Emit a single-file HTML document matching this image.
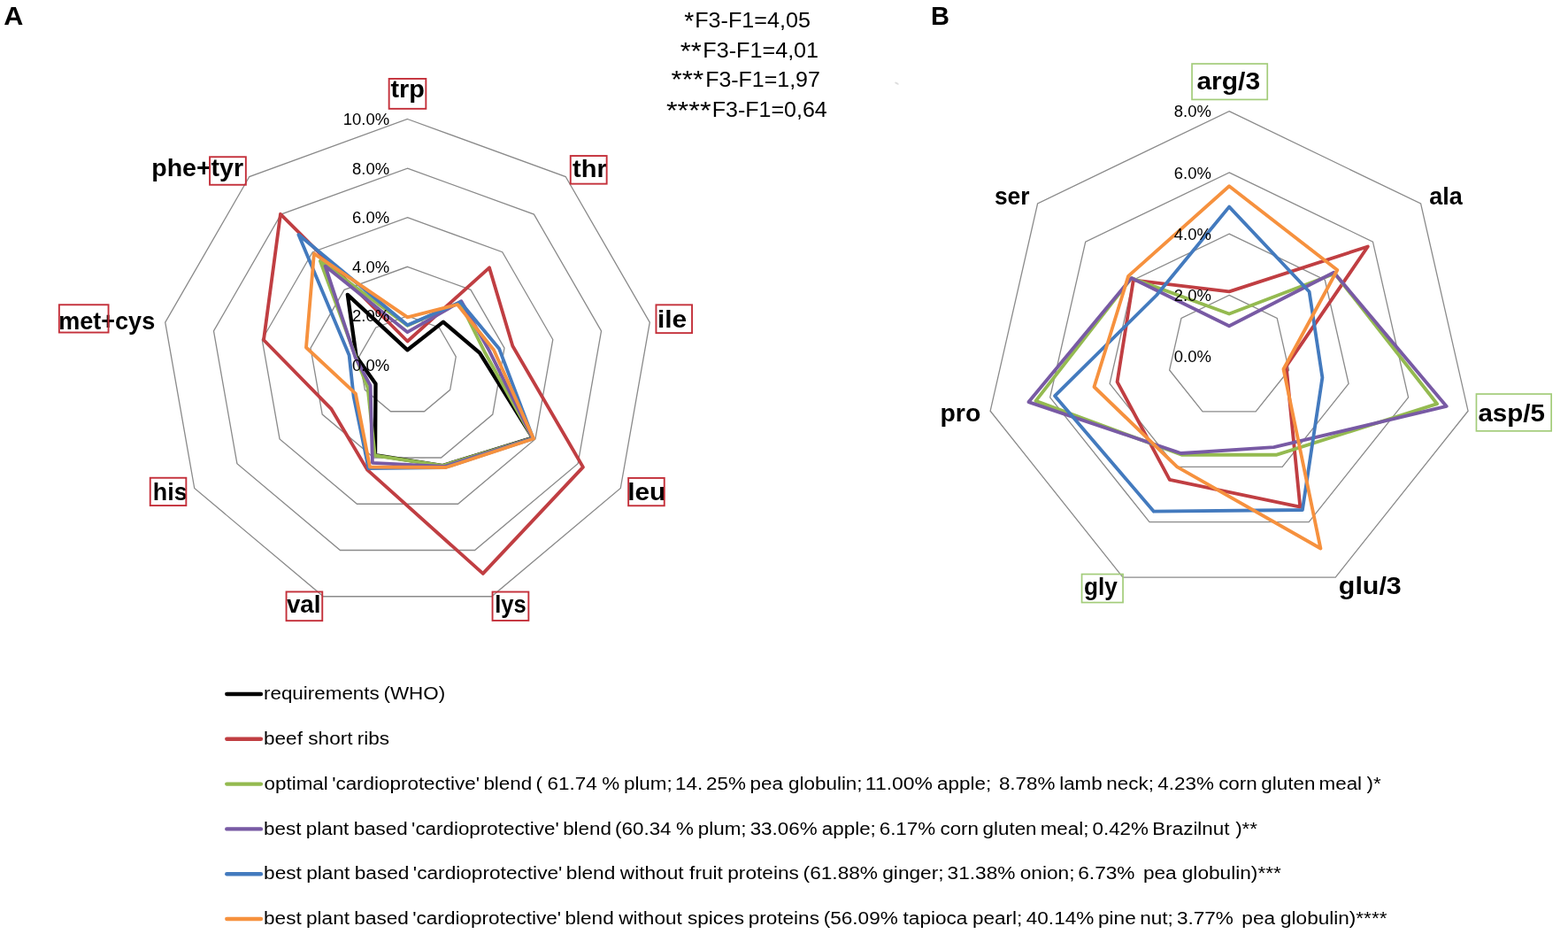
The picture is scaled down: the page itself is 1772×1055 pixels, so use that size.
<!DOCTYPE html>
<html><head><meta charset="utf-8"><title>Radar charts</title>
<style>
html,body{margin:0;padding:0;background:#fff;}
svg{display:block;}
text{font-family:'Liberation Sans', Arial, sans-serif;}
</style></head>
<body>
<svg width="1772" height="1055" viewBox="0 0 1772 1055">
<rect width="1772" height="1055" fill="#fff"/>
<polygon points="460.50,356.90 496.24,369.91 515.26,402.85 508.65,440.30 479.52,464.75 441.48,464.75 412.35,440.30 405.74,402.85 424.76,369.91" fill="none" stroke="#8a8a8a" stroke-width="1.3" stroke-linejoin="miter" stroke-miterlimit="10"/>
<polygon points="460.50,301.30 531.98,327.32 570.01,393.19 556.80,468.10 498.53,516.99 422.47,516.99 364.20,468.10 350.99,393.19 389.02,327.32" fill="none" stroke="#8a8a8a" stroke-width="1.3" stroke-linejoin="miter" stroke-miterlimit="10"/>
<polygon points="460.50,245.70 567.72,284.72 624.77,383.54 604.95,495.90 517.55,569.24 403.45,569.24 316.05,495.90 296.23,383.54 353.28,284.72" fill="none" stroke="#8a8a8a" stroke-width="1.3" stroke-linejoin="miter" stroke-miterlimit="10"/>
<polygon points="460.50,190.10 603.46,242.13 679.52,373.88 653.10,523.70 536.57,621.49 384.43,621.49 267.90,523.70 241.48,373.88 317.54,242.13" fill="none" stroke="#8a8a8a" stroke-width="1.3" stroke-linejoin="miter" stroke-miterlimit="10"/>
<polygon points="460.50,134.50 639.19,199.54 734.28,364.23 701.26,551.50 555.58,673.73 365.42,673.73 219.74,551.50 186.72,364.23 281.81,199.54" fill="none" stroke="#8a8a8a" stroke-width="1.3" stroke-linejoin="miter" stroke-miterlimit="10"/>
<polygon points="1389.10,333.38 1443.22,359.44 1456.59,418.00 1419.14,464.97 1359.06,464.97 1321.61,418.00 1334.98,359.44" fill="none" stroke="#8a8a8a" stroke-width="1.3" stroke-linejoin="miter" stroke-miterlimit="10"/>
<polygon points="1389.10,264.15 1497.34,316.28 1524.08,433.41 1449.17,527.34 1329.03,527.34 1254.12,433.41 1280.86,316.28" fill="none" stroke="#8a8a8a" stroke-width="1.3" stroke-linejoin="miter" stroke-miterlimit="10"/>
<polygon points="1389.10,194.93 1551.47,273.12 1591.57,448.81 1479.21,589.71 1298.99,589.71 1186.63,448.81 1226.73,273.12" fill="none" stroke="#8a8a8a" stroke-width="1.3" stroke-linejoin="miter" stroke-miterlimit="10"/>
<polygon points="1389.10,125.70 1605.59,229.96 1659.06,464.22 1509.24,652.08 1268.96,652.08 1119.14,464.22 1172.61,229.96" fill="none" stroke="#8a8a8a" stroke-width="1.3" stroke-linejoin="miter" stroke-miterlimit="10"/>
<polygon points="460.50,395.30 500.90,363.60 542.10,398.70 602.00,494.60 500.30,526.00 424.00,514.00 424.50,433.50 402.60,402.60 392.80,332.80" fill="none" stroke="#000000" stroke-width="4.3" stroke-linejoin="round" stroke-miterlimit="10"/>
<polygon points="460.50,385.50 553.00,302.40 579.30,390.70 658.90,527.60 545.80,647.90 415.30,530.90 374.60,462.20 298.00,384.00 317.00,241.80" fill="none" stroke="#c03e42" stroke-width="3.85" stroke-linejoin="round" stroke-miterlimit="10"/>
<polygon points="460.50,367.80 520.00,341.60 547.50,397.20 601.80,494.90 500.00,526.00 423.70,514.50 415.60,438.00 402.50,404.20 361.90,294.90" fill="none" stroke="#94ba50" stroke-width="3.85" stroke-linejoin="round" stroke-miterlimit="10"/>
<polygon points="460.50,375.20 521.30,340.20 553.00,396.30 602.00,495.00 502.00,527.00 420.90,522.80 418.60,435.60 401.50,403.50 367.60,300.60" fill="none" stroke="#785aa4" stroke-width="3.85" stroke-linejoin="round" stroke-miterlimit="10"/>
<polygon points="460.50,367.30 520.30,341.30 564.20,394.10 602.50,495.30 503.00,528.00 416.50,529.00 399.60,447.60 394.60,401.20 337.40,265.10" fill="none" stroke="#437abe" stroke-width="3.85" stroke-linejoin="round" stroke-miterlimit="10"/>
<polygon points="460.50,358.40 517.00,344.00 558.00,395.30 603.00,495.50 504.00,528.00 418.00,527.50 401.90,444.70 346.00,392.50 354.90,286.40" fill="none" stroke="#f6913e" stroke-width="3.85" stroke-linejoin="round" stroke-miterlimit="10"/>
<polygon points="1389.10,329.30 1545.80,278.50 1453.60,413.70 1469.30,572.60 1321.80,541.90 1262.60,431.30 1280.80,316.40" fill="none" stroke="#c03e42" stroke-width="3.85" stroke-linejoin="round" stroke-miterlimit="10"/>
<polygon points="1389.10,354.50 1508.50,309.00 1624.10,456.20 1442.90,513.70 1335.40,513.70 1170.50,452.90 1278.60,314.10" fill="none" stroke="#94ba50" stroke-width="3.85" stroke-linejoin="round" stroke-miterlimit="10"/>
<polygon points="1389.10,368.30 1507.40,307.70 1634.70,458.90 1439.50,505.20 1334.60,512.00 1162.50,454.10 1278.60,314.10" fill="none" stroke="#785aa4" stroke-width="3.85" stroke-linejoin="round" stroke-miterlimit="10"/>
<polygon points="1389.10,233.60 1479.60,329.50 1494.40,426.50 1471.90,576.00 1303.90,577.70 1192.10,447.20 1307.00,333.50" fill="none" stroke="#437abe" stroke-width="3.85" stroke-linejoin="round" stroke-miterlimit="10"/>
<polygon points="1389.10,210.30 1511.30,305.00 1450.50,417.00 1492.40,619.50 1330.30,527.40 1236.50,437.00 1275.10,311.90" fill="none" stroke="#f6913e" stroke-width="3.85" stroke-linejoin="round" stroke-miterlimit="10"/>
<text x="398.04" y="418.90" font-size="18.8" textLength="42.12" lengthAdjust="spacingAndGlyphs" fill="#000">0.0%</text>
<text x="398.04" y="363.30" font-size="18.8" textLength="42.12" lengthAdjust="spacingAndGlyphs" fill="#000">2.0%</text>
<text x="398.04" y="307.70" font-size="18.8" textLength="42.12" lengthAdjust="spacingAndGlyphs" fill="#000">4.0%</text>
<text x="398.04" y="252.10" font-size="18.8" textLength="42.12" lengthAdjust="spacingAndGlyphs" fill="#000">6.0%</text>
<text x="398.04" y="196.50" font-size="18.8" textLength="42.12" lengthAdjust="spacingAndGlyphs" fill="#000">8.0%</text>
<text x="387.76" y="140.90" font-size="18.8" textLength="52.40" lengthAdjust="spacingAndGlyphs" fill="#000">10.0%</text>
<text x="1326.74" y="409.25" font-size="18.8" textLength="42.12" lengthAdjust="spacingAndGlyphs" fill="#000">0.0%</text>
<text x="1326.74" y="340.02" font-size="18.8" textLength="42.12" lengthAdjust="spacingAndGlyphs" fill="#000">2.0%</text>
<text x="1326.74" y="270.80" font-size="18.8" textLength="42.12" lengthAdjust="spacingAndGlyphs" fill="#000">4.0%</text>
<text x="1326.74" y="201.58" font-size="18.8" textLength="42.12" lengthAdjust="spacingAndGlyphs" fill="#000">6.0%</text>
<text x="1326.74" y="132.35" font-size="18.8" textLength="42.12" lengthAdjust="spacingAndGlyphs" fill="#000">8.0%</text>
<text x="441.45" y="110.30" font-size="28.5" font-weight="bold" textLength="38.43" lengthAdjust="spacingAndGlyphs" fill="#000">trp</text>
<rect x="439.65" y="88.95" width="41.70" height="33.90" fill="none" stroke="#c4303a" stroke-width="1.9"/>
<text x="647.05" y="199.70" font-size="28.5" font-weight="bold" textLength="38.69" lengthAdjust="spacingAndGlyphs" fill="#000">thr</text>
<rect x="644.75" y="176.05" width="40.90" height="31.60" fill="none" stroke="#c4303a" stroke-width="1.9"/>
<text x="742.92" y="370.40" font-size="28.5" font-weight="bold" textLength="33.10" lengthAdjust="spacingAndGlyphs" fill="#000">ile</text>
<rect x="741.45" y="344.35" width="40.60" height="31.80" fill="none" stroke="#c4303a" stroke-width="1.9"/>
<text x="709.22" y="564.80" font-size="28.5" font-weight="bold" textLength="43.04" lengthAdjust="spacingAndGlyphs" fill="#000">leu</text>
<rect x="710.15" y="539.95" width="40.60" height="31.30" fill="none" stroke="#c4303a" stroke-width="1.9"/>
<text x="559.22" y="692.10" font-size="28.5" font-weight="bold" textLength="35.53" lengthAdjust="spacingAndGlyphs" fill="#000">lys</text>
<rect x="556.55" y="668.55" width="40.80" height="32.40" fill="none" stroke="#c4303a" stroke-width="1.9"/>
<text x="323.89" y="692.10" font-size="28.5" font-weight="bold" textLength="38.47" lengthAdjust="spacingAndGlyphs" fill="#000">val</text>
<rect x="323.55" y="668.45" width="40.70" height="32.70" fill="none" stroke="#c4303a" stroke-width="1.9"/>
<text x="172.83" y="564.60" font-size="28.5" font-weight="bold" textLength="38.77" lengthAdjust="spacingAndGlyphs" fill="#000">his</text>
<rect x="169.75" y="539.75" width="40.60" height="31.30" fill="none" stroke="#c4303a" stroke-width="1.9"/>
<text x="66.22" y="371.70" font-size="28.5" font-weight="bold" textLength="108.99" lengthAdjust="spacingAndGlyphs" fill="#000">met+cys</text>
<rect x="66.85" y="344.25" width="55.70" height="31.30" fill="none" stroke="#c4303a" stroke-width="1.9"/>
<text x="171.22" y="198.80" font-size="28.5" font-weight="bold" textLength="103.81" lengthAdjust="spacingAndGlyphs" fill="#000">phe+tyr</text>
<rect x="237.05" y="177.25" width="40.80" height="31.50" fill="none" stroke="#c4303a" stroke-width="1.9"/>
<text x="1352.42" y="100.60" font-size="28.5" font-weight="bold" textLength="71.66" lengthAdjust="spacingAndGlyphs" fill="#000">arg/3</text>
<rect x="1347.05" y="72.05" width="85.20" height="40.40" fill="none" stroke="#a3cc7a" stroke-width="1.7"/>
<text x="1615.21" y="231.40" font-size="28.5" font-weight="bold" textLength="37.52" lengthAdjust="spacingAndGlyphs" fill="#000">ala</text>
<text x="1670.43" y="475.50" font-size="28.5" font-weight="bold" textLength="75.59" lengthAdjust="spacingAndGlyphs" fill="#000">asp/5</text>
<rect x="1668.45" y="445.05" width="84.70" height="41.80" fill="none" stroke="#a3cc7a" stroke-width="1.7"/>
<text x="1512.85" y="670.80" font-size="28.5" font-weight="bold" textLength="70.95" lengthAdjust="spacingAndGlyphs" fill="#000">glu/3</text>
<text x="1224.93" y="672.20" font-size="28.5" font-weight="bold" textLength="37.81" lengthAdjust="spacingAndGlyphs" fill="#000">gly</text>
<rect x="1222.55" y="648.55" width="46.50" height="32.00" fill="none" stroke="#a3cc7a" stroke-width="1.7"/>
<text x="1062.42" y="475.50" font-size="28.5" font-weight="bold" textLength="45.89" lengthAdjust="spacingAndGlyphs" fill="#000">pro</text>
<text x="1123.97" y="231.40" font-size="28.5" font-weight="bold" textLength="39.52" lengthAdjust="spacingAndGlyphs" fill="#000">ser</text>
<ellipse cx="1013.5" cy="94.1" rx="2.6" ry="1.1" transform="rotate(28 1013.5 94.1)" fill="#dddddd"/>
<text x="4.34" y="27.90" font-size="30" font-weight="bold" textLength="22.07" lengthAdjust="spacingAndGlyphs" fill="#000">A</text>
<text x="1051.96" y="27.90" font-size="30" font-weight="bold" textLength="20.96" lengthAdjust="spacingAndGlyphs" fill="#000">B</text>
<text x="773.34" y="32.50" font-size="28.404999999999998" textLength="11.00" lengthAdjust="spacingAndGlyphs" fill="#000">*</text>
<text x="785.24" y="31.00" font-size="24.7" textLength="130.72" lengthAdjust="spacingAndGlyphs" fill="#000">F3-F1=4,05</text>
<text x="768.80" y="66.90" font-size="28.404999999999998" textLength="24.08" lengthAdjust="spacingAndGlyphs" fill="#000">**</text>
<text x="794.34" y="65.40" font-size="24.7" textLength="130.79" lengthAdjust="spacingAndGlyphs" fill="#000">F3-F1=4,01</text>
<text x="758.59" y="99.20" font-size="28.404999999999998" textLength="36.59" lengthAdjust="spacingAndGlyphs" fill="#000">***</text>
<text x="797.15" y="97.70" font-size="24.7" textLength="129.70" lengthAdjust="spacingAndGlyphs" fill="#000">F3-F1=1,97</text>
<text x="752.98" y="133.60" font-size="28.404999999999998" textLength="50.63" lengthAdjust="spacingAndGlyphs" fill="#000">****</text>
<text x="804.85" y="132.10" font-size="24.7" textLength="129.88" lengthAdjust="spacingAndGlyphs" fill="#000">F3-F1=0,64</text>
<line x1="256.3" y1="784.0" x2="294.9" y2="784.0" stroke="#000000" stroke-width="4.4" stroke-linecap="round"/>
<text x="298.01" y="790.10" font-size="20" textLength="130.72" lengthAdjust="spacingAndGlyphs" fill="#000">requirements</text>
<text x="433.53" y="790.10" font-size="20" textLength="69.66" lengthAdjust="spacingAndGlyphs" fill="#000">(WHO)</text>
<line x1="256.3" y1="834.8" x2="294.9" y2="834.8" stroke="#c03e42" stroke-width="4.4" stroke-linecap="round"/>
<text x="298.05" y="840.90" font-size="20" textLength="43.88" lengthAdjust="spacingAndGlyphs" fill="#000">beef</text>
<text x="348.33" y="840.90" font-size="20" textLength="50.12" lengthAdjust="spacingAndGlyphs" fill="#000">short</text>
<text x="403.79" y="840.90" font-size="20" textLength="36.33" lengthAdjust="spacingAndGlyphs" fill="#000">ribs</text>
<line x1="256.3" y1="885.6" x2="294.9" y2="885.6" stroke="#94ba50" stroke-width="4.4" stroke-linecap="round"/>
<text x="298.56" y="891.70" font-size="20" textLength="72.26" lengthAdjust="spacingAndGlyphs" fill="#000">optimal</text>
<text x="375.18" y="891.70" font-size="20" textLength="166.79" lengthAdjust="spacingAndGlyphs" fill="#000">&#39;cardioprotective&#39;</text>
<text x="546.40" y="891.70" font-size="20" textLength="54.85" lengthAdjust="spacingAndGlyphs" fill="#000">blend</text>
<text x="605.41" y="891.70" font-size="20" textLength="7.46" lengthAdjust="spacingAndGlyphs" fill="#000">(</text>
<text x="618.60" y="891.70" font-size="20" textLength="56.09" lengthAdjust="spacingAndGlyphs" fill="#000">61.74</text>
<text x="680.24" y="891.70" font-size="20" textLength="19.93" lengthAdjust="spacingAndGlyphs" fill="#000">%</text>
<text x="704.93" y="891.70" font-size="20" textLength="54.81" lengthAdjust="spacingAndGlyphs" fill="#000">plum;</text>
<text x="763.02" y="891.70" font-size="20" textLength="31.16" lengthAdjust="spacingAndGlyphs" fill="#000">14.</text>
<text x="798.00" y="891.70" font-size="20" textLength="44.86" lengthAdjust="spacingAndGlyphs" fill="#000">25%</text>
<text x="847.62" y="891.70" font-size="20" textLength="37.40" lengthAdjust="spacingAndGlyphs" fill="#000">pea</text>
<text x="891.08" y="891.70" font-size="20" textLength="83.50" lengthAdjust="spacingAndGlyphs" fill="#000">globulin;</text>
<text x="977.86" y="891.70" font-size="20" textLength="76.02" lengthAdjust="spacingAndGlyphs" fill="#000">11.00%</text>
<text x="1059.13" y="891.70" font-size="20" textLength="61.07" lengthAdjust="spacingAndGlyphs" fill="#000">apple;</text>
<text x="1128.92" y="891.70" font-size="20" textLength="63.56" lengthAdjust="spacingAndGlyphs" fill="#000">8.78%</text>
<text x="1197.16" y="891.70" font-size="20" textLength="48.58" lengthAdjust="spacingAndGlyphs" fill="#000">lamb</text>
<text x="1250.32" y="891.70" font-size="20" textLength="53.58" lengthAdjust="spacingAndGlyphs" fill="#000">neck;</text>
<text x="1308.37" y="891.70" font-size="20" textLength="63.56" lengthAdjust="spacingAndGlyphs" fill="#000">4.23%</text>
<text x="1377.17" y="891.70" font-size="20" textLength="43.60" lengthAdjust="spacingAndGlyphs" fill="#000">corn</text>
<text x="1425.38" y="891.70" font-size="20" textLength="61.07" lengthAdjust="spacingAndGlyphs" fill="#000">gluten</text>
<text x="1490.51" y="891.70" font-size="20" textLength="48.58" lengthAdjust="spacingAndGlyphs" fill="#000">meal</text>
<text x="1544.46" y="891.70" font-size="20" textLength="16.19" lengthAdjust="spacingAndGlyphs" fill="#000">)*</text>
<line x1="256.3" y1="936.4" x2="294.9" y2="936.4" stroke="#785aa4" stroke-width="4.4" stroke-linecap="round"/>
<text x="298.06" y="942.50" font-size="20" textLength="42.32" lengthAdjust="spacingAndGlyphs" fill="#000">best</text>
<text x="345.77" y="942.50" font-size="20" textLength="48.55" lengthAdjust="spacingAndGlyphs" fill="#000">plant</text>
<text x="399.71" y="942.50" font-size="20" textLength="61.00" lengthAdjust="spacingAndGlyphs" fill="#000">based</text>
<text x="465.13" y="942.50" font-size="20" textLength="166.59" lengthAdjust="spacingAndGlyphs" fill="#000">&#39;cardioprotective&#39;</text>
<text x="636.15" y="942.50" font-size="20" textLength="54.78" lengthAdjust="spacingAndGlyphs" fill="#000">blend</text>
<text x="695.10" y="942.50" font-size="20" textLength="63.48" lengthAdjust="spacingAndGlyphs" fill="#000">(60.34</text>
<text x="764.12" y="942.50" font-size="20" textLength="19.91" lengthAdjust="spacingAndGlyphs" fill="#000">%</text>
<text x="788.79" y="942.50" font-size="20" textLength="54.75" lengthAdjust="spacingAndGlyphs" fill="#000">plum;</text>
<text x="847.67" y="942.50" font-size="20" textLength="75.93" lengthAdjust="spacingAndGlyphs" fill="#000">33.06%</text>
<text x="928.85" y="942.50" font-size="20" textLength="61.00" lengthAdjust="spacingAndGlyphs" fill="#000">apple;</text>
<text x="993.70" y="942.50" font-size="20" textLength="63.48" lengthAdjust="spacingAndGlyphs" fill="#000">6.17%</text>
<text x="1062.44" y="942.50" font-size="20" textLength="43.55" lengthAdjust="spacingAndGlyphs" fill="#000">corn</text>
<text x="1110.59" y="942.50" font-size="20" textLength="61.00" lengthAdjust="spacingAndGlyphs" fill="#000">gluten</text>
<text x="1175.65" y="942.50" font-size="20" textLength="54.75" lengthAdjust="spacingAndGlyphs" fill="#000">meal;</text>
<text x="1234.51" y="942.50" font-size="20" textLength="63.48" lengthAdjust="spacingAndGlyphs" fill="#000">0.42%</text>
<text x="1302.36" y="942.50" font-size="20" textLength="87.10" lengthAdjust="spacingAndGlyphs" fill="#000">Brazilnut</text>
<text x="1396.17" y="942.50" font-size="20" textLength="24.88" lengthAdjust="spacingAndGlyphs" fill="#000">)**</text>
<line x1="256.3" y1="987.2" x2="294.9" y2="987.2" stroke="#437abe" stroke-width="4.4" stroke-linecap="round"/>
<text x="298.04" y="993.30" font-size="20" textLength="42.82" lengthAdjust="spacingAndGlyphs" fill="#000">best</text>
<text x="346.23" y="993.30" font-size="20" textLength="49.13" lengthAdjust="spacingAndGlyphs" fill="#000">plant</text>
<text x="400.73" y="993.30" font-size="20" textLength="61.73" lengthAdjust="spacingAndGlyphs" fill="#000">based</text>
<text x="466.85" y="993.30" font-size="20" textLength="168.57" lengthAdjust="spacingAndGlyphs" fill="#000">&#39;cardioprotective&#39;</text>
<text x="639.82" y="993.30" font-size="20" textLength="55.43" lengthAdjust="spacingAndGlyphs" fill="#000">blend</text>
<text x="700.83" y="993.30" font-size="20" textLength="71.78" lengthAdjust="spacingAndGlyphs" fill="#000">without</text>
<text x="779.12" y="993.30" font-size="20" textLength="37.77" lengthAdjust="spacingAndGlyphs" fill="#000">fruit</text>
<text x="822.26" y="993.30" font-size="20" textLength="80.60" lengthAdjust="spacingAndGlyphs" fill="#000">proteins</text>
<text x="907.64" y="993.30" font-size="20" textLength="84.38" lengthAdjust="spacingAndGlyphs" fill="#000">(61.88%</text>
<text x="997.26" y="993.30" font-size="20" textLength="69.27" lengthAdjust="spacingAndGlyphs" fill="#000">ginger;</text>
<text x="1070.63" y="993.30" font-size="20" textLength="76.84" lengthAdjust="spacingAndGlyphs" fill="#000">31.38%</text>
<text x="1152.71" y="993.30" font-size="20" textLength="61.73" lengthAdjust="spacingAndGlyphs" fill="#000">onion;</text>
<text x="1218.25" y="993.30" font-size="20" textLength="64.24" lengthAdjust="spacingAndGlyphs" fill="#000">6.73%</text>
<text x="1291.92" y="993.30" font-size="20" textLength="37.80" lengthAdjust="spacingAndGlyphs" fill="#000">pea</text>
<text x="1335.76" y="993.30" font-size="20" textLength="112.09" lengthAdjust="spacingAndGlyphs" fill="#000">globulin)***</text>
<line x1="256.3" y1="1038.0" x2="294.9" y2="1038.0" stroke="#f6913e" stroke-width="4.4" stroke-linecap="round"/>
<text x="298.05" y="1044.10" font-size="20" textLength="42.64" lengthAdjust="spacingAndGlyphs" fill="#000">best</text>
<text x="346.07" y="1044.10" font-size="20" textLength="48.92" lengthAdjust="spacingAndGlyphs" fill="#000">plant</text>
<text x="400.37" y="1044.10" font-size="20" textLength="61.47" lengthAdjust="spacingAndGlyphs" fill="#000">based</text>
<text x="466.24" y="1044.10" font-size="20" textLength="167.87" lengthAdjust="spacingAndGlyphs" fill="#000">&#39;cardioprotective&#39;</text>
<text x="638.52" y="1044.10" font-size="20" textLength="55.20" lengthAdjust="spacingAndGlyphs" fill="#000">blend</text>
<text x="699.30" y="1044.10" font-size="20" textLength="71.48" lengthAdjust="spacingAndGlyphs" fill="#000">without</text>
<text x="776.99" y="1044.10" font-size="20" textLength="63.95" lengthAdjust="spacingAndGlyphs" fill="#000">spices</text>
<text x="845.67" y="1044.10" font-size="20" textLength="80.26" lengthAdjust="spacingAndGlyphs" fill="#000">proteins</text>
<text x="930.72" y="1044.10" font-size="20" textLength="84.03" lengthAdjust="spacingAndGlyphs" fill="#000">(56.09%</text>
<text x="1020.60" y="1044.10" font-size="20" textLength="72.75" lengthAdjust="spacingAndGlyphs" fill="#000">tapioca</text>
<text x="1098.90" y="1044.10" font-size="20" textLength="56.43" lengthAdjust="spacingAndGlyphs" fill="#000">pearl;</text>
<text x="1159.79" y="1044.10" font-size="20" textLength="76.52" lengthAdjust="spacingAndGlyphs" fill="#000">40.14%</text>
<text x="1241.05" y="1044.10" font-size="20" textLength="42.65" lengthAdjust="spacingAndGlyphs" fill="#000">pine</text>
<text x="1288.20" y="1044.10" font-size="20" textLength="37.63" lengthAdjust="spacingAndGlyphs" fill="#000">nut;</text>
<text x="1329.94" y="1044.10" font-size="20" textLength="63.97" lengthAdjust="spacingAndGlyphs" fill="#000">3.77%</text>
<text x="1403.35" y="1044.10" font-size="20" textLength="37.64" lengthAdjust="spacingAndGlyphs" fill="#000">pea</text>
<text x="1447.05" y="1044.10" font-size="20" textLength="120.40" lengthAdjust="spacingAndGlyphs" fill="#000">globulin)****</text>
</svg>
</body></html>
